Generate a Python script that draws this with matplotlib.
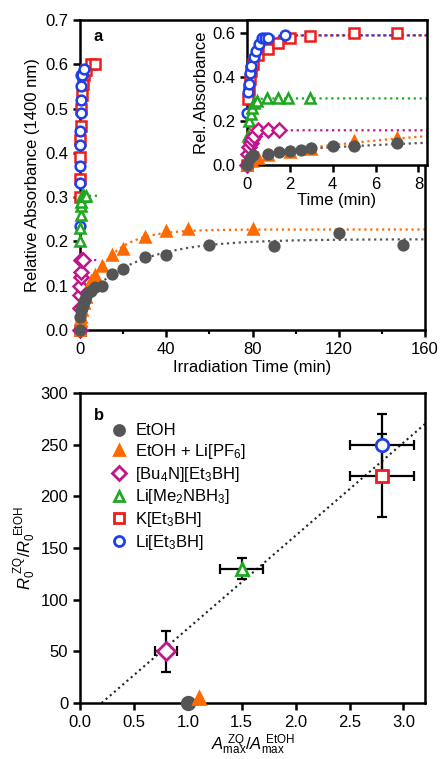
import numpy as np
import matplotlib
matplotlib.use("Agg")
import matplotlib.pyplot as plt

plt.rcParams['font.family'] = ['Liberation Sans', 'DejaVu Sans']
plt.rcParams['mathtext.fontset'] = 'custom'
plt.rcParams['mathtext.rm'] = 'Liberation Sans'
plt.rcParams['mathtext.it'] = 'Liberation Sans:italic'
plt.rcParams['font.size'] = 12

# --------------------------
# panel a data (time in min, relative absorbance)
# --------------------------
t_etoh = [0, 0.15, 0.3, 1.0, 1.5, 2.0, 2.5, 3.0, 4.0, 5.0, 7.0, 10, 15, 20, 30, 40, 60, 90, 120, 150]
a_etoh = [0.0, 0.03, 0.045, 0.05, 0.057, 0.065, 0.068, 0.076, 0.086, 0.088, 0.098,
          0.10, 0.126, 0.137, 0.164, 0.169, 0.193, 0.19, 0.22, 0.193]

t_lipf6 = [0, 0.25, 0.5, 1, 2, 3, 5, 7, 10, 15, 20, 30, 40, 50, 80]
a_lipf6 = [0.0, 0.02, 0.03, 0.045, 0.06, 0.075, 0.11, 0.124, 0.144, 0.169, 0.183, 0.209, 0.224, 0.227, 0.227]

t_bu4n = [0, 0.05, 0.1, 0.17, 0.25, 0.33, 0.5, 1.0, 1.5]
a_bu4n = [0.0, 0.05, 0.08, 0.10, 0.12, 0.13, 0.158, 0.158, 0.158]

t_me2n = [0.05, 0.1, 0.17, 0.25, 0.33, 0.45, 0.92, 1.46, 1.93, 2.94]
a_me2n = [0.13, 0.20, 0.23, 0.26, 0.28, 0.29, 0.303, 0.303, 0.303, 0.303]

t_k = [0, 0.05, 0.1, 0.15, 0.2, 0.3, 0.5, 1.0, 1.46, 2.0, 2.94, 4.97, 7.0]
a_k = [0.0, 0.30, 0.34, 0.39, 0.43, 0.46, 0.50, 0.53, 0.556, 0.576, 0.586, 0.60, 0.60]

t_li = [0, 0.05, 0.1, 0.15, 0.2, 0.33, 0.42, 0.55, 0.68, 0.85, 1.0, 1.78]
a_li = [0.235, 0.333, 0.37, 0.417, 0.45, 0.49, 0.52, 0.55, 0.576, 0.576, 0.576, 0.59]

# fit curves: y = A1(1-exp(-k1 t)) + A2(1-exp(-k2 t))
fit_etoh = (0.06, 1.2, 0.145, 0.04)
fit_lipf6 = (0.04, 1.5, 0.187, 0.08)
fit_bu4n = (0.158, 8.0, 0.0, 0.0)
fit_me2n = (0.303, 8.0, 0.0, 0.0)
fit_k = (0.59, 2.8, 0.0, 0.0)
fit_li = (0.59, 3.8, 0.0, 0.0)

# --------------------------
# panel b data
# --------------------------
names = ["EtOH", "EtOH + Li[PF$_6$]", "[Bu$_4$N][Et$_3$BH]", "Li[Me$_2$NBH$_3$]",
         "K[Et$_3$BH]", "Li[Et$_3$BH]"]
amax_ratio = [1.0, 1.1, 0.8, 1.5, 2.8, 2.8]
amax_err = [0, 0, 0.1, 0.2, 0.3, 0.3]
r0_ratio = [0, 5, 50, 130, 220, 250]
r0_err = [0, 0, 20, 10, 40, 30]
line_slope = 90.0
line_x0 = 0.2

# styles
c_gray = "#555555"
c_orange = "#FF6A00"
c_mag = "#C0168C"
c_green = "#1FA81F"
c_red = "#EE1C1C"
c_blue = "#1E40E6"
styles = [
    dict(marker="o", color=c_gray, mfc=c_gray, mec=c_gray),
    dict(marker="^", color=c_orange, mfc=c_orange, mec=c_orange),
    dict(marker="D", color=c_mag, mfc="white", mec=c_mag),
    dict(marker="^", color=c_green, mfc="white", mec=c_green),
    dict(marker="s", color=c_red, mfc="white", mec=c_red),
    dict(marker="o", color=c_blue, mfc="white", mec=c_blue),
]


def curve(t, p):
    a1, k1, a2, k2 = p
    return a1 * (1 - np.exp(-k1 * t)) + a2 * (1 - np.exp(-k2 * t))


def style_axes(ax):
    for s in ax.spines.values():
        s.set_linewidth(1.8)
    ax.tick_params(width=1.8, length=5, direction="out")
    ax.tick_params(which="minor", width=1.5, length=3)


fig = plt.figure(figsize=(4.4, 7.59), dpi=100)

# --------------------------
# panel a
# --------------------------
ax = fig.add_axes([80/440, 1-330/759, 345/440, 310/759])
series = [(t_etoh, a_etoh, fit_etoh), (t_lipf6, a_lipf6, fit_lipf6), (t_bu4n, a_bu4n, fit_bu4n),
          (t_me2n, a_me2n, fit_me2n), (t_k, a_k, fit_k), (t_li, a_li, fit_li)]
fit_end = [160, 160, 9, 9, 2, 2]
order = [4, 5, 3, 2, 1, 0]
for i in order:
    t, a, p = series[i]
    st = styles[i]
    tt = np.linspace(0, fit_end[i], 400)
    ax.plot(tt, curve(tt, p), ls=":", lw=1.6, color=st["color"], zorder=2)
    ax.plot(t, a, ls="none", marker=st["marker"], ms=7, mfc=st["mfc"], mec=st["mec"],
            mew=1.8, clip_on=False, zorder=3)
ax.set_xlim(0, 160)
ax.set_ylim(0, 0.7)
ax.set_xticks([0, 40, 80, 120, 160])
ax.set_xticks([20, 60, 100, 140], minor=True)
ax.set_yticks(np.arange(0, 0.71, 0.1))
ax.yaxis.set_major_formatter(matplotlib.ticker.FormatStrFormatter("%.1f"))
ax.set_xlabel("Irradiation Time (min)", fontsize=12, labelpad=2)
ax.set_ylabel("Relative Absorbance (1400 nm)", fontsize=12, labelpad=4)
ax.text(0.04, 0.97, "a", transform=ax.transAxes, fontweight="bold", fontsize=12, va="top")
style_axes(ax)

# inset
ins = fig.add_axes([247/440, 1-165/759, 180/440, 145/759])
for i in order:
    t, a, p = series[i]
    st = styles[i]
    tt = np.linspace(0, 8.4, 400)
    ins.plot(tt, curve(tt, p), ls=":", lw=1.6, color=st["color"], zorder=2)
    ins.plot(t, a, ls="none", marker=st["marker"], ms=7, mfc=st["mfc"], mec=st["mec"],
             mew=1.8, clip_on=False, zorder=3)
ins.set_xlim(0, 8.4)
ins.set_ylim(0, 0.66)
ins.set_xticks([0, 2, 4, 6, 8])
ins.set_yticks([0.0, 0.2, 0.4, 0.6])
ins.yaxis.set_major_formatter(matplotlib.ticker.FormatStrFormatter("%.1f"))
ins.set_xlabel("Time (min)", fontsize=12, labelpad=1)
ins.set_ylabel("Rel. Absorbance", fontsize=12, labelpad=2)
style_axes(ins)

# --------------------------
# panel b
# --------------------------
bx = fig.add_axes([80/440, 1-703/759, 345/440, 310/759])
xx = np.linspace(line_x0, 3.2, 50)
bx.plot(xx, line_slope * (xx - line_x0), ls=":", lw=1.5, color="#222222", zorder=1)
for i in range(len(names)):
    st = styles[i]
    if amax_err[i] > 0:
        bx.errorbar(amax_ratio[i], r0_ratio[i], xerr=amax_err[i], yerr=r0_err[i], fmt="none",
                    ecolor="black", elinewidth=1.6, capsize=3.5, capthick=1.6, zorder=2)
    bx.plot(amax_ratio[i], r0_ratio[i], ls="none", marker=st["marker"], ms=9,
            mfc=st["mfc"], mec=st["mec"], mew=2, clip_on=False, zorder=3, label=names[i])
bx.set_xlim(0, 3.2)
bx.set_ylim(0, 300)
bx.set_xticks(np.arange(0, 3.01, 0.5))
bx.set_yticks(np.arange(0, 301, 50))
bx.xaxis.set_major_formatter(matplotlib.ticker.FormatStrFormatter("%.1f"))
bx.set_xlabel(r"$A_{\rm max}^{\ \rm ZQ}/A_{\rm max}^{\ \rm EtOH}$", fontsize=12, labelpad=2)
bx.set_ylabel(r"$R_0^{\ \rm ZQ}/R_0^{\ \rm EtOH}$", fontsize=12, labelpad=2)
bx.text(0.04, 0.95, "b", transform=bx.transAxes, fontweight="bold", fontsize=12, va="top")
bx.legend(loc="upper left", bbox_to_anchor=(0.04, 0.95), frameon=False, fontsize=12,
          handletextpad=0.4, labelspacing=0.22, handlelength=1.2, markerscale=0.8)
style_axes(bx)

fig.savefig("out.png", dpi=100)
